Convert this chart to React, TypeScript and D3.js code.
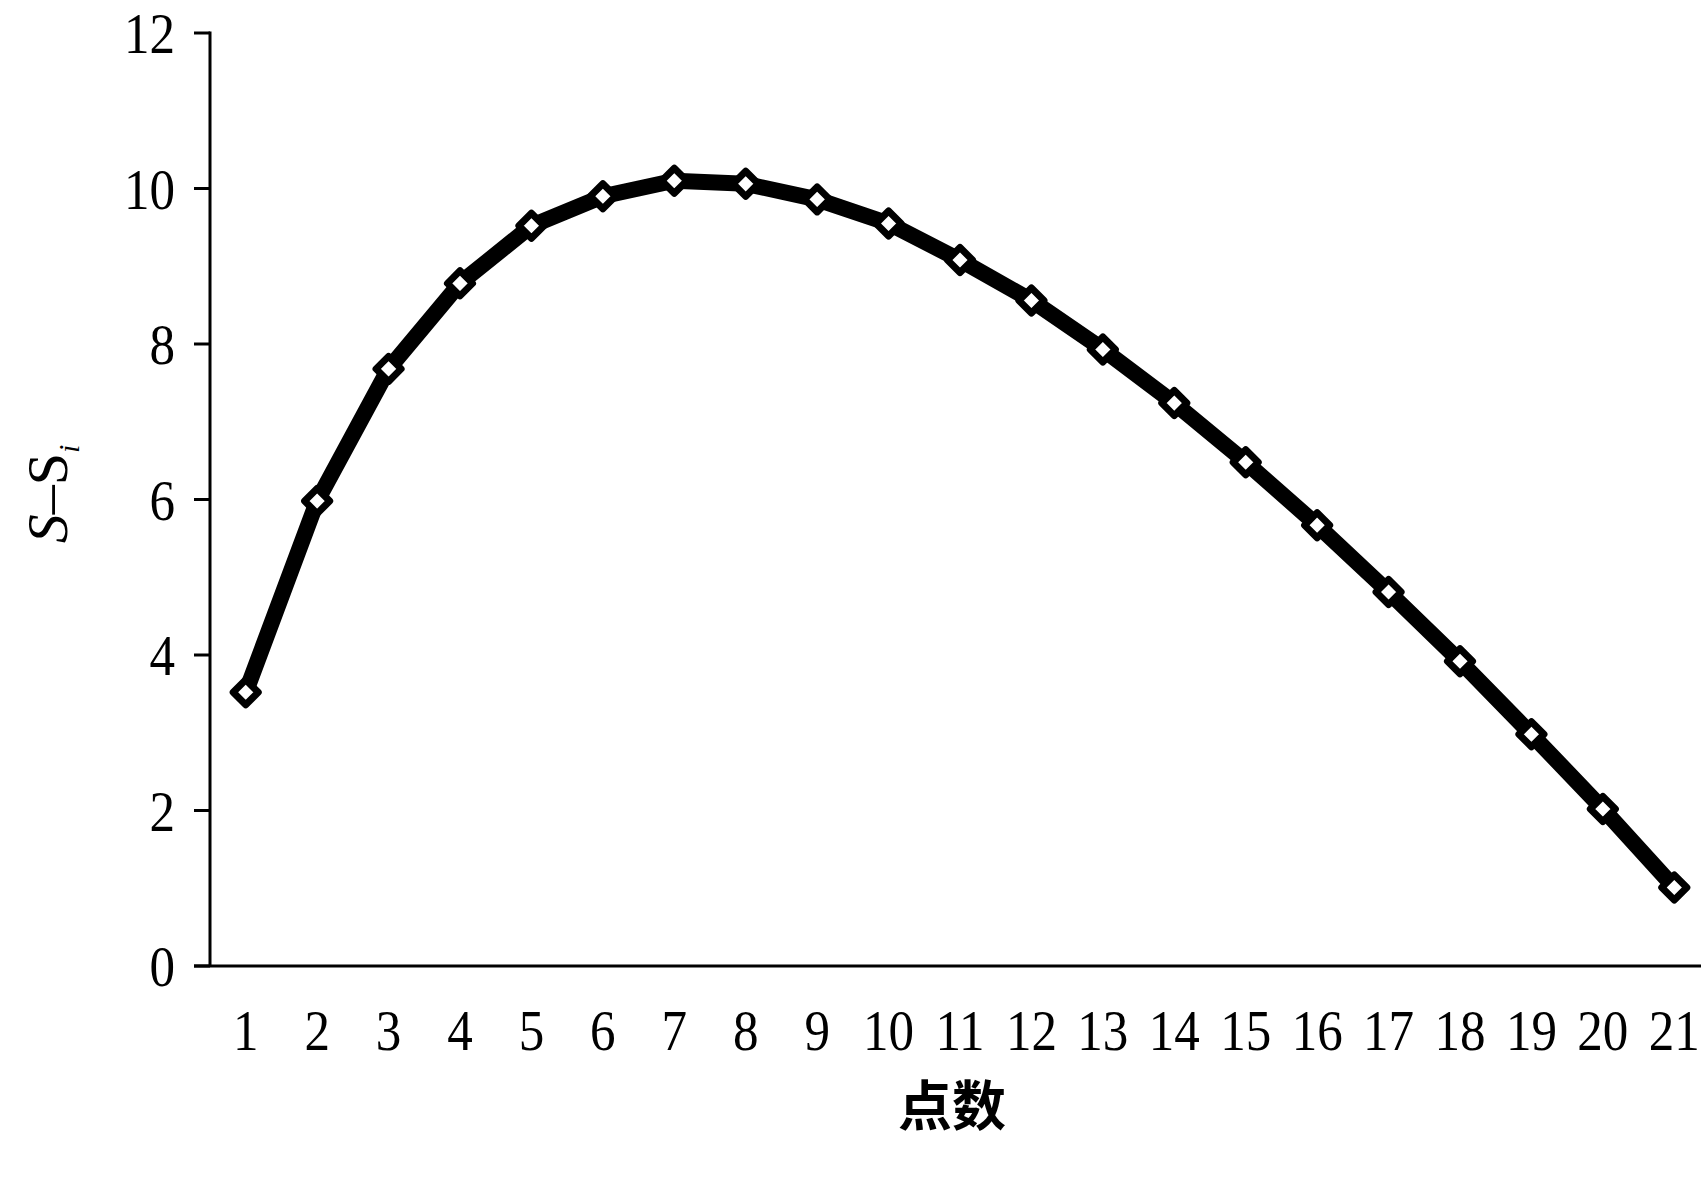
import React from "react";
import * as d3 from "d3";

const categories: string[] = ["1","2","3","4","5","6","7","8","9","10","11","12","13","14","15","16","17","18","19","20","21"];
const values: number[] = [3.52, 5.98, 7.68, 8.78, 9.52, 9.90, 10.10, 10.06, 9.86, 9.55, 9.08, 8.56, 7.93, 7.24, 6.48, 5.67, 4.81, 3.92, 2.98, 2.02, 1.01];
const yTicks: number[] = [0, 2, 4, 6, 8, 10, 12];
const xTitle = "点数";

const W = 1701;
const H = 1180;
const X0 = 210;
const X1 = 1710;
const Y0 = 966;
const Y1 = 33;

export default function App() {
  const x = d3.scaleBand<string>().domain(categories).range([X0, X1]).padding(0);
  const y = d3.scaleLinear().domain([0, 12]).range([Y0, Y1]);
  const cx = (c: string) => (x(c) as number) + x.bandwidth() / 2;

  const pts: [number, number][] = values.map((v, i) => [cx(categories[i]), y(v)]);
  const line = d3.line().curve(d3.curveLinear)(pts) as string;
  const diamond = d3.symbol().type(d3.symbolDiamond2).size(400)() as string;

  const numFont = "Liberation Serif";

  return (
    <svg width={W} height={H} style={{ position: "absolute", left: 0, top: 0, background: "#fff", display: "block" }}>
      <rect x={0} y={0} width={W} height={H} fill="#fff" />
      {/* axes */}
      <line x1={X0} x2={X0} y1={Y1 - 1.5} y2={Y0} stroke="#000" strokeWidth={3} />
      <line x1={X0 - 16} x2={W} y1={Y0} y2={Y0} stroke="#000" strokeWidth={3} />
      {yTicks.map((t) => (
        <g key={t}>
          <line x1={X0 - 16} x2={X0} y1={y(t)} y2={y(t)} stroke="#000" strokeWidth={3} />
          <text
            transform={`translate(175,${y(t) + 20}) scale(0.88,1)`}
            textAnchor="end"
            fontFamily={numFont}
            fontSize={58}
            fill="#000"
          >
            {t}
          </text>
        </g>
      ))}
      {categories.map((c) => (
        <text
          key={c}
          transform={`translate(${cx(c)},1050) scale(0.88,1)`}
          textAnchor="middle"
          fontFamily={numFont}
          fontSize={58}
          fill="#000"
        >
          {c}
        </text>
      ))}
      {/* series */}
      <path d={line} fill="none" stroke="#000" strokeWidth={16} strokeLinejoin="round" strokeLinecap="round" />
      {pts.map((p, i) => (
        <path
          key={i}
          d={diamond}
          transform={`translate(${p[0]},${p[1]})`}
          fill="#fff"
          stroke="#000"
          strokeWidth={7}
          strokeLinejoin="round"
        />
      ))}
      {/* titles */}
      <text
        x={952}
        y={1126}
        textAnchor="middle"
        fontFamily="Noto Sans CJK SC"
        fontWeight={700}
        fontSize={54}
        fill="#000"
      >
        {xTitle}
      </text>
      <text
        transform="translate(67,494) rotate(-90)"
        textAnchor="middle"
        fontFamily={numFont}
        fontSize={58}
        fill="#000"
      >
        <tspan fontStyle="italic">S</tspan>
        <tspan>–S</tspan>
        <tspan fontStyle="italic" fontSize={30} dy={12}>i</tspan>
      </text>
    </svg>
  );
}
